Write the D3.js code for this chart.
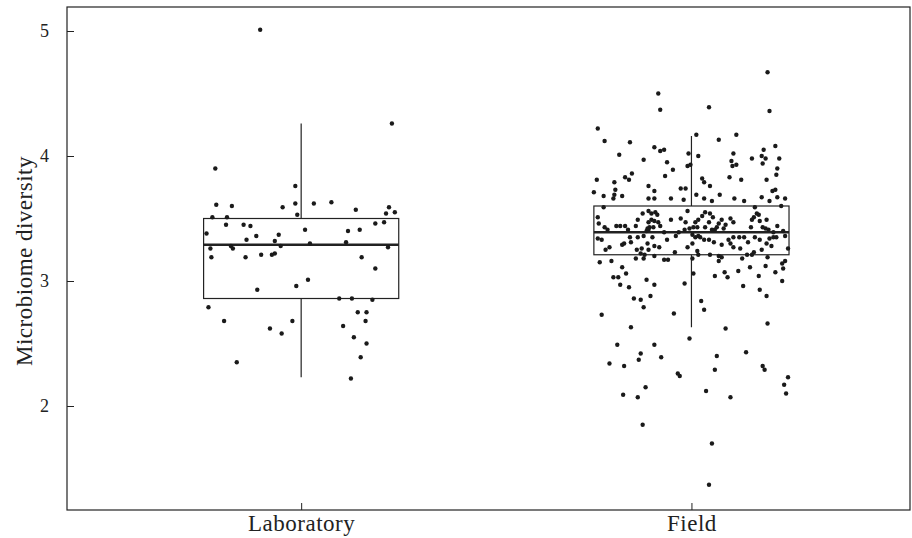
<!DOCTYPE html>
<html>
<head>
<meta charset="utf-8">
<script src="https://cdn.jsdelivr.net/npm/d3@7"></script>
<style>
  body { margin: 0; background: #fff; }
  text { font-family: "Liberation Serif", "DejaVu Serif", serif; fill: #222; }
</style>
</head>
<body>
<div id="chart"></div>
<script>
// groups and their box statistics (lower whisker, Q1, median, Q3, upper whisker)
var groups = ["Laboratory", "Field"];
var groupPos = [1, 2];
var boxStats = [
  [2.23, 2.86, 3.29, 3.50, 4.26],
  [2.63, 3.21, 3.39, 3.60, 4.16]
];
var yTicks = [2, 3, 4, 5];

// raw points: [jitter as fraction of half box width, diversity]
var labPoints = [
  [-0.42,5.01],[0.93,4.26],[-0.88,3.90],[-0.06,3.76],[-0.87,3.61],[-0.71,3.60],[-0.19,3.59],
  [-0.06,3.62],[0.13,3.62],[0.31,3.63],[0.56,3.57],[0.90,3.59],[0.87,3.54],[0.96,3.55],
  [-0.91,3.51],[-0.76,3.51],[-0.04,3.53],[-0.77,3.45],[-0.59,3.45],[-0.52,3.44],[-0.97,3.38],
  [-0.46,3.36],[-0.23,3.37],[-0.56,3.33],[-0.27,3.32],[0.04,3.41],[0.48,3.40],[0.60,3.41],
  [0.76,3.46],[0.85,3.47],[0.09,3.30],[0.46,3.31],[-0.72,3.28],[-0.21,3.28],[-0.93,3.26],
  [-0.70,3.26],[0.89,3.27],[-0.92,3.19],[-0.57,3.19],[-0.41,3.21],[-0.30,3.21],[-0.27,3.22],
  [0.62,3.19],[0.76,3.10],[0.07,3.01],[-0.05,2.96],[-0.45,2.93],[0.39,2.86],[0.52,2.86],
  [0.73,2.85],[-0.95,2.79],[-0.79,2.68],[-0.09,2.68],[-0.32,2.62],[-0.20,2.58],[0.58,2.75],
  [0.67,2.75],[0.66,2.68],[0.43,2.64],[0.54,2.55],[0.67,2.50],[0.61,2.39],[-0.66,2.35],
  [0.51,2.22]
];

var fieldPoints = [
  [0.78,4.67],[-0.34,4.50],[-0.32,4.37],[0.18,4.39],[0.80,4.36],[-0.96,4.22],[-0.89,4.12],
  [-0.63,4.11],[0.05,4.17],[0.46,4.17],[0.28,4.13],[-0.38,4.07],[-0.32,4.04],[-0.28,4.05],
  [0.86,4.08],[0.74,4.05],[-0.74,4.01],[-0.03,4.02],[0.07,4.00],[0.43,4.02],[0.72,4.00],
  [-0.49,3.97],[0.62,3.98],[0.76,3.98],[0.90,3.98],[0.41,3.96],[-0.25,3.95],[0.73,3.94],
  [0.46,3.93],[0.42,3.92],[-0.04,3.92],[-0.01,3.93],[-0.19,3.89],[0.88,3.90],[-0.61,3.86],
  [-0.27,3.84],[0.39,3.83],[0.87,3.85],[-0.68,3.83],[-0.64,3.81],[-0.79,3.79],[-0.97,3.81],
  [0.11,3.82],[0.13,3.79],[0.51,3.81],[0.77,3.81],[-0.44,3.76],[0.19,3.76],[-0.78,3.73],
  [-0.38,3.72],[-0.11,3.74],[-0.06,3.74],[-1.00,3.71],[0.83,3.72],[0.86,3.73],[-0.90,3.68],
  [-0.79,3.69],[-0.71,3.68],[0.05,3.69],[0.29,3.69],[0.88,3.67],[-0.80,3.66],[-0.44,3.66],
  [-0.38,3.66],[-0.21,3.66],[-0.08,3.65],[0.13,3.66],[0.44,3.66],[0.72,3.67],[0.96,3.66],
  [-0.90,3.59],[-0.50,3.54],[-0.44,3.56],[-0.41,3.54],[-0.37,3.55],[-0.35,3.53],[-0.04,3.56],
  [-0.96,3.51],[-0.55,3.49],[-0.41,3.49],[-0.44,3.47],[-0.38,3.48],[-0.34,3.47],[-0.21,3.49],
  [-0.11,3.50],[-0.06,3.47],[-0.95,3.46],[-0.89,3.43],[-0.77,3.44],[-0.73,3.44],[-0.68,3.44],
  [-0.57,3.44],[-0.45,3.42],[-0.43,3.43],[-0.39,3.43],[-0.32,3.44],[-0.86,3.41],[-0.65,3.41],
  [-0.46,3.40],[-0.44,3.41],[-0.28,3.39],[-0.13,3.39],[-0.07,3.41],[-0.02,3.42],[-0.96,3.34],
  [-0.92,3.33],[-0.63,3.35],[-0.55,3.35],[-0.49,3.36],[-0.40,3.35],[-0.25,3.33],[-0.16,3.36],
  [-0.69,3.30],[-0.62,3.31],[-0.45,3.30],[-0.71,3.29],[-0.38,3.28],[-0.33,3.27],[-0.84,3.27],
  [-0.88,3.25],[-0.51,3.26],[-0.56,3.25],[-0.44,3.25],[-0.52,3.22],[-0.48,3.21],[-0.57,3.18],
  [-0.49,3.18],[-0.38,3.20],[-0.17,3.23],[-0.04,3.27],[-0.94,3.15],[-0.82,3.16],[-0.28,3.17],
  [-0.24,3.17],
  [0.21,3.64],[0.54,3.64],[0.80,3.64],[0.65,3.59],[0.92,3.60],[0.14,3.55],[0.19,3.54],
  [0.11,3.52],[0.22,3.51],[0.67,3.54],[0.69,3.53],[0.64,3.51],[0.62,3.49],[0.70,3.48],
  [0.77,3.49],[0.04,3.47],[0.07,3.49],[0.31,3.49],[0.40,3.50],[0.43,3.47],[0.18,3.47],
  [0.28,3.46],[0.35,3.45],[0.14,3.43],[0.02,3.43],[0.06,3.43],[0.26,3.43],[0.33,3.42],
  [0.24,3.41],[0.21,3.41],[0.61,3.43],[0.73,3.43],[0.76,3.42],[0.88,3.44],[0.79,3.41],
  [0.94,3.40],[0.84,3.39],[0.01,3.37],[0.07,3.36],[0.09,3.35],[0.04,3.35],[0.13,3.33],
  [0.18,3.33],[0.23,3.31],[0.01,3.30],[0.38,3.33],[0.43,3.35],[0.49,3.35],[0.54,3.35],
  [0.65,3.35],[0.70,3.33],[0.80,3.34],[0.84,3.35],[0.87,3.35],[0.96,3.36],[0.40,3.30],
  [0.43,3.27],[0.31,3.29],[0.58,3.31],[0.50,3.26],[0.77,3.30],[0.82,3.28],[0.72,3.25],
  [0.99,3.26],[0.64,3.23],[0.06,3.24],[0.19,3.21],[0.28,3.20],[0.31,3.19],[0.07,3.21],
  [0.57,3.21],[0.62,3.21],[0.78,3.19],[0.52,3.18],[0.96,3.16],[0.01,3.18],[0.93,3.14],
  [0.28,3.16],
  [-0.71,3.11],[-0.67,3.06],[-0.80,3.03],[-0.75,3.03],[-0.73,2.97],[-0.64,2.95],[-0.46,3.01],
  [-0.38,2.97],[-0.07,2.98],[0.02,3.06],[-0.59,2.86],[-0.52,2.85],[-0.42,2.88],[-0.49,2.79],
  [-0.92,2.73],[-0.18,2.74],[-0.62,2.63],[-0.76,2.49],[-0.38,2.49],[-0.02,2.54],[0.24,3.04],
  [0.34,3.07],[0.37,3.03],[0.48,3.08],[0.60,3.11],[0.69,3.04],[0.76,3.12],[0.86,3.07],
  [0.94,3.10],[0.93,3.00],[0.53,2.96],[0.70,2.93],[0.77,2.88],[0.10,2.84],[0.13,2.77],
  [0.35,2.62],[0.78,2.66],
  [-0.52,2.42],[-0.54,2.37],[-0.84,2.34],[-0.69,2.32],[-0.31,2.39],[-0.14,2.26],[-0.12,2.24],
  [-0.47,2.15],[-0.70,2.09],[-0.55,2.07],[-0.50,1.85],[0.26,2.40],[0.56,2.43],[0.24,2.29],
  [0.73,2.32],[0.75,2.29],[0.15,2.12],[0.40,2.07],[0.99,2.23],[0.95,2.17],[0.97,2.10],
  [0.21,1.70],[0.18,1.37]
];

var pointSets = [labPoints, fieldPoints];

var svgWidth = 912;
var svgHeight = 538;
var margin = { top: 7, right: 2, bottom: 28, left: 67 };
var width = svgWidth - margin.left - margin.right;
var height = svgHeight - margin.top - margin.bottom;
var boxHalf = 0.25;

var svg = d3.select("#chart").append("svg")
  .attr("width", svgWidth)
  .attr("height", svgHeight);

var g = svg.append("g")
  .attr("transform", `translate(${margin.left}, ${margin.top})`);

var x = d3.scaleLinear().domain([0.4, 2.56]).range([0, width]);
var y = d3.scaleLinear().domain([1.168, 5.192]).range([height, 0]);
var jit = d3.scaleLinear().domain([-1, 1]).range([-boxHalf, boxHalf]);

// frame
g.append("rect")
  .attr("width", width)
  .attr("height", height)
  .attr("fill", "none")
  .attr("stroke", "#222")
  .attr("stroke-width", 1.2);

// axes with inward ticks
var yAxis = g.append("g")
  .call(d3.axisLeft(y).tickValues(yTicks).tickFormat(d3.format("d")).tickSizeInner(-7).tickSizeOuter(0).tickPadding(18));
var xAxis = g.append("g")
  .attr("transform", `translate(0, ${height})`)
  .call(d3.axisBottom(x).tickValues(groupPos).tickFormat((d, i) => groups[i]).tickSizeInner(-7).tickSizeOuter(0).tickPadding(0));
[yAxis, xAxis].forEach(a => {
  a.select(".domain").remove();
  a.selectAll("line").attr("stroke", "#222");
  a.selectAll("text").attr("fill", "#222")
    .style("font-family", '"Liberation Serif", serif');
});
yAxis.selectAll("text").attr("font-size", 18);
// category labels sit a bit larger, baseline near the bottom edge
xAxis.selectAll("text")
  .attr("font-size", 23)
  .attr("letter-spacing", 0.5)
  .attr("dy", null)
  .attr("y", 21);

// boxes
groupPos.forEach((p, i) => {
  var s = boxStats[i];
  var bg = g.append("g");
  bg.append("line")
    .attr("x1", x(p)).attr("x2", x(p))
    .attr("y1", y(s[0])).attr("y2", y(s[4]))
    .attr("stroke", "#222").attr("stroke-width", 1.2);
  bg.append("rect")
    .attr("x", x(p - boxHalf))
    .attr("y", y(s[3]))
    .attr("width", x(p + boxHalf) - x(p - boxHalf))
    .attr("height", y(s[1]) - y(s[3]))
    .attr("fill", "#fff")
    .attr("stroke", "#222").attr("stroke-width", 1.2);
  bg.append("line")
    .attr("x1", x(p - boxHalf)).attr("x2", x(p + boxHalf))
    .attr("y1", y(s[2])).attr("y2", y(s[2]))
    .attr("stroke", "#222").attr("stroke-width", 2.6);
});

// jittered points
pointSets.forEach((pts, i) => {
  g.append("g").selectAll("circle")
    .data(pts)
    .enter()
    .append("circle")
    .attr("cx", d => x(groupPos[i] + jit(d[0])))
    .attr("cy", d => y(d[1]))
    .attr("r", 2.2)
    .attr("fill", "#1a1a1a");
});

// y axis title
g.append("text")
  .attr("transform", "rotate(-90)")
  .attr("x", -(261 - margin.top))
  .attr("y", -35)
  .attr("text-anchor", "middle")
  .attr("font-size", 23)
  .attr("letter-spacing", 0.5)
  .text("Microbiome diversity");
</script>
</body>
</html>
